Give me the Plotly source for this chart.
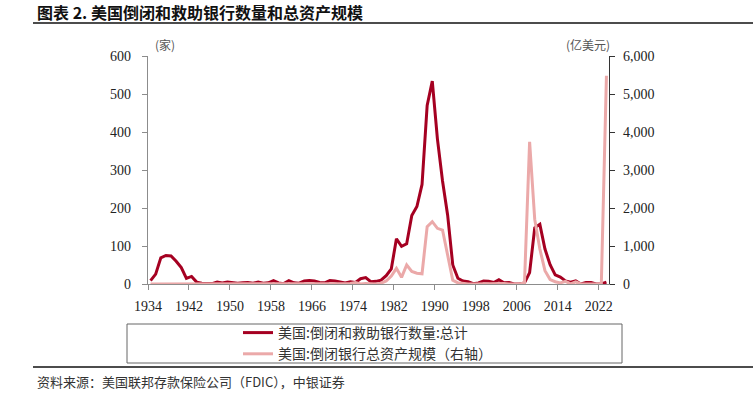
import plotly.graph_objects as go

years = list(range(1934, 2024))

failures = [9, 26, 69, 75, 74, 60, 43, 15, 20, 5,
            2, 1, 1, 5, 3, 5, 4, 2, 3, 4,
            2, 5, 2, 3, 9, 3, 1, 9, 3, 2,
            8, 9, 8, 4, 3, 9, 8, 6, 3, 6,
            4, 14, 17, 6, 7, 10, 22, 40, 119, 99,
            106, 180, 204, 262, 470, 534, 382, 271, 181, 50,
            15, 8, 6, 1, 3, 8, 7, 4, 11, 3,
            4, 0, 0, 3, 30, 148, 157, 92, 51, 24,
            18, 8, 5, 8, 0, 4, 4, 0, 0, 5]

assets = [1, 1, 1, 1, 1, 1, 1, 0, 0, 0,
          0, 0, 0, 0, 0, 0, 0, 0, 0, 0,
          0, 0, 0, 0, 0, 0, 0, 0, 0, 0,
          0, 0, 1, 0, 0, 0, 0, 2, 0, 13,
          36, 3, 10, 2, 1, 20, 80, 210, 413, 175,
          500, 330, 285, 270, 1510, 1640, 1465, 1420, 800, 100,
          30, 10, 3, 0, 3, 15, 4, 20, 25, 10,
          2, 0, 0, 26, 3740, 1700, 920, 350, 116, 60,
          29, 69, 3, 55, 0, 2, 5, 0, 0, 5480]

tick_years = list(range(1934, 2023, 8))
tick_labels = [str(y) for y in tick_years]

name_count = "美国:倒闭和救助银行数量:总计"
name_assets = "美国:倒闭银行总资产规模（右轴）"
title_text = "图表 2. 美国倒闭和救助银行数量和总资产规模"
source_text = "资料来源：美国联邦存款保险公司（FDIC），中银证券"

DARK = "#A50021"
LIGHT = "#EBA9A9"
AXIS = "#8c8c8c"
CJK = "Noto Sans CJK SC"
NUM = "Liberation Serif"

fig = go.Figure()
fig.add_trace(go.Scatter(x=years, y=failures, mode="lines", name=name_count,
                         line=dict(color=DARK, width=3), legendgroup="a"))
fig.add_trace(go.Scatter(x=years, y=assets, mode="lines", name=name_assets,
                         line=dict(color=LIGHT, width=3), yaxis="y2", legendgroup="b"))

W, H = 753, 394
ml, mr, mt, mb = 148, 144, 56, 110
pw, ph = W - ml - mr, H - mt - mb

def px(xp):
    return (xp - ml) / pw

def py(yp):
    return (H - mb - yp) / ph

fig.update_layout(
    width=W, height=H,
    margin=dict(l=ml, r=mr, t=mt, b=mb),
    paper_bgcolor="white", plot_bgcolor="white",
    showlegend=True,
    legend=dict(x=px(238), y=py(317), xanchor="left", yanchor="top",
                font=dict(family=CJK, size=14, color="#333"),
                bgcolor="rgba(0,0,0,0)", tracegroupgap=5, traceorder="normal"),
    xaxis=dict(range=[1933.5, 2023.5], tickmode="array",
               tickvals=[y - 0.5 for y in tick_years], ticktext=tick_labels,
               showline=True, linecolor=AXIS, linewidth=1.2,
               ticks="outside", ticklen=5, tickcolor=AXIS,
               showgrid=False, zeroline=False,
               tickfont=dict(family=NUM, size=14, color="#222"),
               ticklabelstandoff=4),
    yaxis=dict(range=[0, 600], dtick=100, showline=True, linecolor=AXIS, linewidth=1.2,
               ticks="outside", ticklen=5, tickcolor=AXIS, showgrid=False, zeroline=False,
               tickfont=dict(family=NUM, size=14, color="#222"), ticklabelstandoff=8),
    yaxis2=dict(range=[0, 6000], dtick=1000, overlaying="y", side="right", anchor="x",
                showline=True, linecolor="#333", linewidth=1.2,
                ticks="outside", ticklen=5, tickcolor="#333", showgrid=False, zeroline=False,
                tickformat=",", tickfont=dict(family=NUM, size=14, color="#222"),
                ticklabelstandoff=5),
    shapes=[
        dict(type="line", xref="paper", yref="paper", x0=px(33), x1=px(753),
             y0=py(23), y1=py(23), line=dict(color="#111", width=1.5)),
        dict(type="line", xref="paper", yref="paper", x0=px(33), x1=px(753),
             y0=py(367), y1=py(367), line=dict(color="#111", width=1.5)),
        dict(type="rect", xref="paper", yref="paper", x0=px(127), x1=px(622),
             y0=py(363), y1=py(324), line=dict(color="#666", width=1)),
    ],
    annotations=[
        dict(text="<b>" + title_text + "</b>", xref="paper", yref="paper",
             x=px(35), y=py(12), xanchor="left", yanchor="middle", showarrow=False,
             font=dict(family=CJK, size=16, color="#111")),
        dict(text=source_text, xref="paper", yref="paper",
             x=px(35), y=py(381), xanchor="left", yanchor="middle", showarrow=False,
             font=dict(family=CJK, size=13, color="#333")),
        dict(text="(家)", xref="paper", yref="paper",
             x=px(165), y=py(44), xanchor="center", yanchor="middle", showarrow=False,
             font=dict(family=CJK, size=12, color="#555")),
        dict(text="(亿美元)", xref="paper", yref="paper",
             x=px(588), y=py(44), xanchor="center", yanchor="middle", showarrow=False,
             font=dict(family=CJK, size=12, color="#555")),
    ],
)

fig.write_html("out.html",
               config={"displayModeBar": False},
               post_script="document.body.style.margin='0';document.body.style.overflow='hidden';")
